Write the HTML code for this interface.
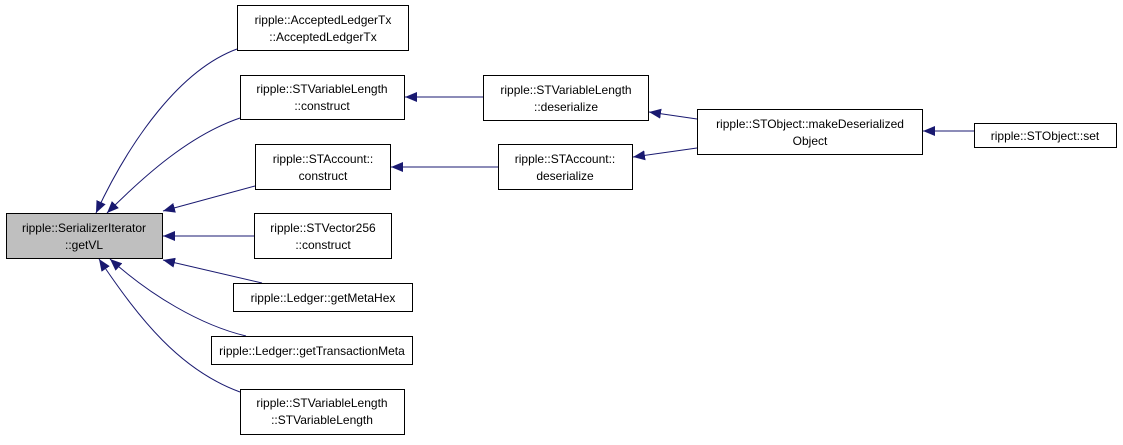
<!DOCTYPE html>
<html><head><style>
body{margin:0;background:#fff;}
svg text{font-family:"Liberation Sans",sans-serif;font-size:12px;fill:#000;text-anchor:middle;}
</style></head><body>
<svg width="1123" height="440" xmlns="http://www.w3.org/2000/svg">
<defs><marker id="a" markerWidth="12" markerHeight="10" refX="0" refY="5" orient="auto" markerUnits="userSpaceOnUse"><path d="M12,0 L0,5 L12,10 z" fill="#191970"/></marker></defs>
<g fill="none" stroke="#191970" stroke-width="1">
<path d="M96,213 C130,140 180,70 237,49" marker-start="url(#a)"/>
<path d="M107,213 C145,175 190,135 240,118" marker-start="url(#a)"/>
<path d="M163,211 L255,186" marker-start="url(#a)"/>
<path d="M163,236 L254,236" marker-start="url(#a)"/>
<path d="M163,260 L262,283" marker-start="url(#a)"/>
<path d="M110,259 C150,295 200,325 246,336" marker-start="url(#a)"/>
<path d="M99,259 C140,320 180,370 240,392" marker-start="url(#a)"/>
<path d="M405,97 L483,97" marker-start="url(#a)"/>
<path d="M391,167 L498,167" marker-start="url(#a)"/>
<path d="M649,112 L697,119" marker-start="url(#a)"/>
<path d="M633,157 L697,148" marker-start="url(#a)"/>
<path d="M923,131 L974,131" marker-start="url(#a)"/>
</g>
<g stroke="#000" stroke-width="1">
<rect x="6.5" y="213.5" width="156" height="45" fill="#bfbfbf"/>
<g fill="#fff">
<rect x="237.5" y="5.5" width="171" height="45"/>
<rect x="240.5" y="75.5" width="164" height="44"/>
<rect x="255.5" y="144.5" width="135" height="45"/>
<rect x="254.5" y="213.5" width="137" height="45"/>
<rect x="233.5" y="283.5" width="179" height="28"/>
<rect x="211.5" y="336.5" width="201" height="28"/>
<rect x="240.5" y="389.5" width="164" height="45"/>
<rect x="483.5" y="75.5" width="165" height="45"/>
<rect x="498.5" y="144.5" width="134" height="45"/>
<rect x="697.5" y="109.5" width="225" height="45"/>
<rect x="974.5" y="123.5" width="142" height="24"/>
</g></g>
<text x="84" y="232">ripple::SerializerIterator</text><text x="84" y="249">::getVL</text>
<text x="323" y="24">ripple::AcceptedLedgerTx</text><text x="323" y="41">::AcceptedLedgerTx</text>
<text x="322" y="93">ripple::STVariableLength</text><text x="322" y="110">::construct</text>
<text x="323" y="163">ripple::STAccount::</text><text x="323" y="180">construct</text>
<text x="323" y="232">ripple::STVector256</text><text x="323" y="249">::construct</text>
<text x="323" y="302">ripple::Ledger::getMetaHex</text>
<text x="312" y="355">ripple::Ledger::getTransactionMeta</text>
<text x="322" y="407">ripple::STVariableLength</text><text x="322" y="424">::STVariableLength</text>
<text x="566" y="94">ripple::STVariableLength</text><text x="566" y="111">::deserialize</text>
<text x="565" y="163">ripple::STAccount::</text><text x="565" y="180">deserialize</text>
<text x="810" y="128">ripple::STObject::makeDeserialized</text><text x="810" y="145">Object</text>
<text x="1045" y="140">ripple::STObject::set</text>
</svg>
</body></html>
